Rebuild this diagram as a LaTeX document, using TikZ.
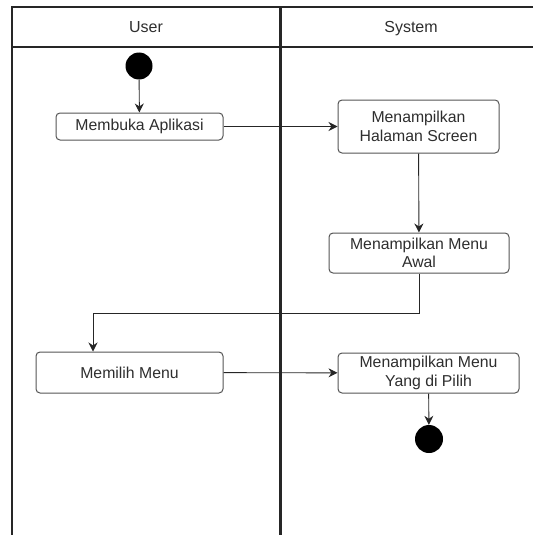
\documentclass[tikz,border=0pt]{standalone}
\usepackage{fontspec}
\setmainfont{Liberation Sans}
\usetikzlibrary{arrows.meta}

\definecolor{lane}{HTML}{262626}
\definecolor{edge}{HTML}{555555}
\definecolor{txt}{HTML}{2E2E2E}

\tikzset{
  activity/.style={draw=edge, line width=1pt, rounded corners=4pt, fill=white,
    text=txt, align=center, inner sep=0pt,
    font=\fontsize{15.8}{18.5}\selectfont},
  dot/.style={circle, fill=black, inner sep=0pt},
  flow/.style={draw=lane, line width=0.9pt, -{Stealth[length=9pt,width=9pt]}},
  lanehead/.style={text=txt, anchor=base, font=\fontsize{16}{19}\selectfont}
}

\begin{document}
\begin{tikzpicture}[x=1pt,y=-1pt]
\useasboundingbox (0,0) rectangle (533,535);
% swimlanes
\draw [lane, line width=2pt] (533,7) -- (12,7) -- (12,535);
\draw [lane, line width=2pt] (12,47) -- (533,47);
\draw [lane, line width=3pt] (280,7) -- (280,535);
\node [lanehead] (user) at (146,33) {User};
\node [lanehead] (system) at (411,33) {System};
% activities
\node [dot, minimum size=27pt] (start) at (139,66) {};
\node [activity, minimum width=167pt, minimum height=27pt] (open) at (139.5,126.5) {Membuka Aplikasi};
\node [activity, minimum width=161pt, minimum height=53pt] (splash) at (418.5,126.5) {Menampilkan\\Halaman Screen};
\node [activity, minimum width=180pt, minimum height=40pt] (awal) at (419,253) {Menampilkan Menu\\Awal};
\node [activity, minimum width=187pt, minimum height=41pt] (pilih) at (129.5,372.5) {Memilih Menu};
\node [activity, minimum width=181pt, minimum height=40pt] (tampil) at (428.5,373) {Menampilkan Menu\\Yang di Pilih};
\node [dot, minimum size=28pt] (end) at (429,439) {};
\coordinate (turn) at (93,313);
% flows
\draw [flow] (start) -- (open);
\draw [flow] (open) -- (splash);
\draw [flow] (splash) -- (awal);
\draw [flow] (awal.south) |- (turn) -- (turn |- pilih.north);
\draw [flow] (pilih) -- (tampil);
\draw [flow] (tampil) -- (end);
\end{tikzpicture}
\end{document}
